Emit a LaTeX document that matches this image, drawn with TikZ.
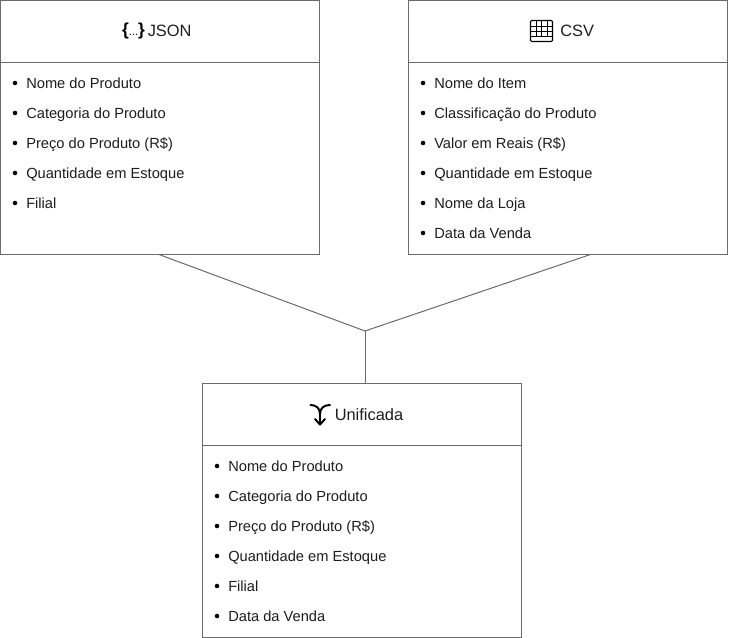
\documentclass[tikz,border=0pt]{standalone}
\usepackage{fontspec}
\setmainfont{Liberation Sans}
\definecolor{edge}{HTML}{6B6B6B}
\definecolor{ink}{HTML}{1E1E1E}
\tikzset{
  x=0.75pt,y=-0.75pt,
  box/.style={draw=edge,line width=0.75pt,fill=white,minimum width=239.25pt,minimum height=190.5pt,inner sep=0pt,outer sep=0pt,anchor=north west},
  rule/.style={draw=edge,line width=0.75pt},
  link/.style={draw=edge,line width=0.75pt},
  item/.style={anchor=base west,inner sep=0pt,font=\fontsize{11pt}{12pt}\selectfont,text=ink},
  dot/.style={circle,fill=black,draw=none,minimum size=3.4pt,inner sep=0pt},
  head/.style={anchor=base west,inner sep=0pt,font=\fontsize{12.3pt}{14pt}\selectfont,text=ink},
  icon/.style={draw=black,line width=0.9pt,line cap=round,line join=round},
}
\begin{document}
\begin{tikzpicture}
\useasboundingbox (0,0) rectangle (736,638);
\fill[white] (0,0) rectangle (736,638);
% boxes
\node[box] (json) at (0.5,0.5) {};
\node[box] (csv) at (408.5,0.5) {};
\node[box] (uni) at (202.5,383.5) {};
% header rules
\coordinate (jsonL) at (0.5,62.5); \coordinate (jsonR) at (319.5,62.5);
\coordinate (csvL) at (408.5,62.5); \coordinate (csvR) at (727.5,62.5);
\coordinate (uniL) at (202.5,445.5); \coordinate (uniR) at (521.5,445.5);
\draw[rule] (jsonL) -- (jsonR);
\draw[rule] (csvL) -- (csvR);
\draw[rule] (uniL) -- (uniR);
% connectors
\coordinate (jsonOut) at (159,254.5);
\coordinate (csvOut) at (590.5,254.5);
\coordinate (joint) at (365,331);
\coordinate (uniIn) at (365,383.5);
\draw[link] (jsonOut) -- (joint);
\draw[link] (csvOut) -- (joint);
\draw[link] (joint) -- (uniIn);
% headers
\node[head] (jsonT) at (147.5,37) {JSON};
\node[head] (csvT) at (560,37) {CSV};
\node[head] (uniT) at (334.5,420) {Unificada};
% json icon
\node[anchor=base,inner sep=0pt,font=\fontsize{13pt}{14pt}\selectfont\bfseries,text=black] (jsonI) at (133.5,36) {\{\fontsize{8.5pt}{10pt}\selectfont\mdseries ...\fontsize{13pt}{14pt}\selectfont\bfseries\}};
% csv icon
\draw[icon,line width=0.8pt,rounded corners=0.8pt] (530.5,20.5) rectangle (552.5,41.5);
\draw[draw=black,line width=0.6pt] (530.5,26) -- (552.5,26) (530.5,31) -- (552.5,31) (530.5,36) -- (552.5,36)
  (536,20.5) -- (536,36) (541.5,20.5) -- (541.5,36) (547,20.5) -- (547,36);
% merge icon
\draw[icon,line width=1.5pt] (320,412) -- (320,424);
\draw[icon,line width=1.5pt] (310.5,405) .. controls (316,405) and (320,408) .. (320,414) .. controls (320,408) and (324,405) .. (330,405);
\draw[icon,line width=1.5pt] (315,419) -- (320,424.5) -- (325,419);
% JSON list
\foreach \n/\y/\t in {a/89/Nome do Produto,b/119/Categoria do Produto,c/149/Preço do Produto (R\$),d/179/Quantidade em Estoque,e/209/Filial}{
  \node[dot] (j\n d) at (15,\y-6) {};
  \node[item] (j\n) at (26,\y) {\t};
}
% CSV list
\foreach \n/\y/\t in {a/89/Nome do Item,b/119/Classificação do Produto,c/149/Valor em Reais (R\$),d/179/Quantidade em Estoque,e/209/Nome da Loja,f/239/Data da Venda}{
  \node[dot] (c\n d) at (423,\y-6) {};
  \node[item] (c\n) at (434,\y) {\t};
}
% Unified list
\foreach \n/\y/\t in {a/471/Nome do Produto,b/501/Categoria do Produto,c/531/Preço do Produto (R\$),d/561/Quantidade em Estoque,e/591/Filial,f/621/Data da Venda}{
  \node[dot] (u\n d) at (217,\y-5) {};
  \node[item] (u\n) at (228,\y) {\t};
}
\end{tikzpicture}
\end{document}
